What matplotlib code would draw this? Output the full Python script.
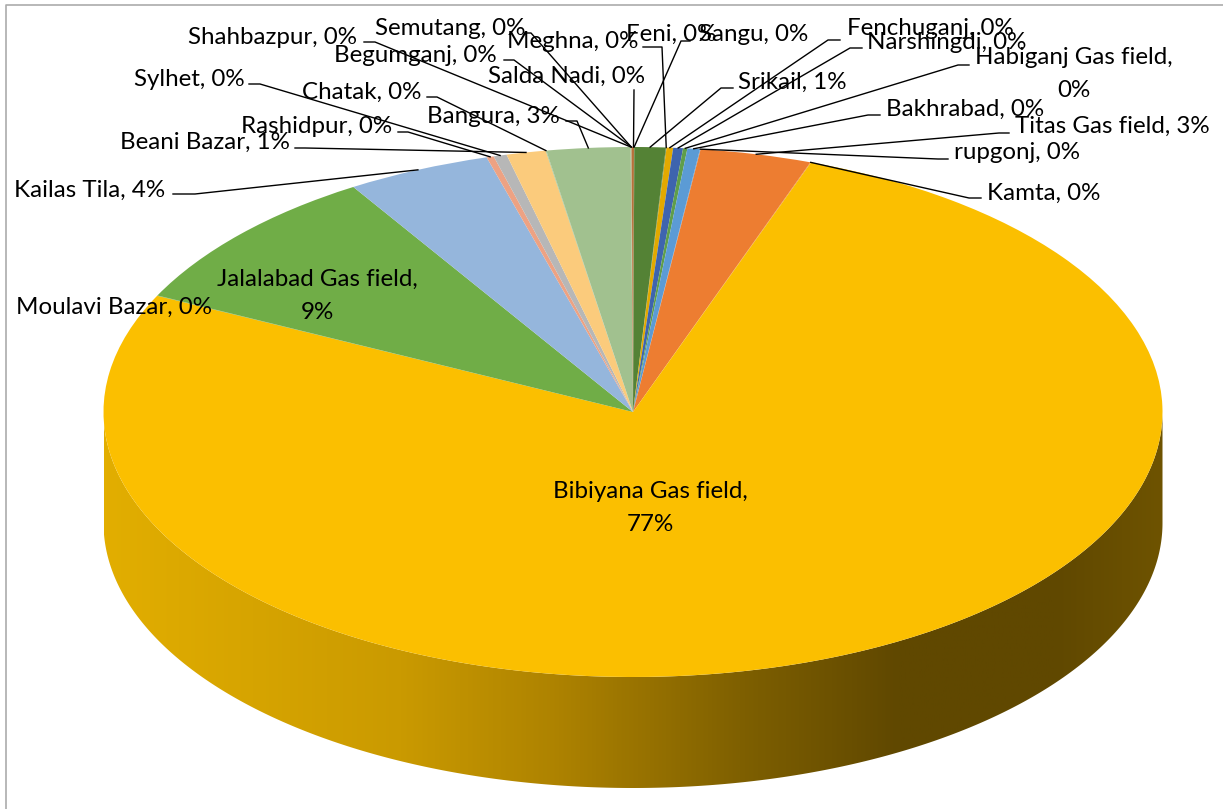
import numpy as np
import matplotlib
matplotlib.use('Agg')
import matplotlib.pyplot as plt
from matplotlib.colors import LinearSegmentedColormap

# clockwise from 12 o'clock
names = ['Salda Nadi', 'Sangu', 'Srikail', 'Feni', 'Fenchuganj', 'Narshingdi',
         'Habiganj Gas field', 'Bakhrabad', 'rupgonj', 'Titas Gas field', 'Kamta',
         'Bibiyana Gas field', 'Moulavi Bazar', 'Jalalabad Gas field', 'Kailas Tila',
         'Rashidpur', 'Sylhet', 'Beani Bazar', 'Chatak', 'Bangura', 'Shahbazpur',
         'Semutang', 'Begumganj', 'Meghna']
values = [0.03, 0.01, 0.95, 0.02, 0.20, 0.30,
          0.13, 0.38, 0.02, 3.40, 0.02,
          76.8, 0.02, 8.90, 4.40,
          0.22, 0.40, 1.20, 0.02, 2.55, 0.01,
          0.01, 0.01, 0.04]
# the hairline slices can't be told apart in the picture, they take a neighbour's colour
colors = ['#B8703A', '#548235', '#548235', '#548235', '#E2A900', '#3E64AE',
          '#5F9E4A', '#5B9BD5', '#5B9BD5', '#ED7D31', '#ED7D31',
          '#FBBF00', '#70AD47', '#70AD47', '#95B6DC',
          '#EDA283', '#B7B7B7', '#FBCB7C', '#A1C18F', '#A1C18F', '#A1C18F',
          '#A1C18F', '#B8703A', '#B8703A']

# where the labels sit, in picture pixels
label_x = [566, 754, 792, 671, 930, 947, 1074, 965, 1017, 1112, 1044,
           650, 114, 317, 90, 317, 189, 205, 362, 493, 273, 450, 415, 573]
label_y = [76, 34, 82, 34, 28, 42, 74, 109, 152, 126, 193,
           508, 307, 296, 190, 126, 79, 142, 92, 116, 37, 28, 55, 41]
wrapped = ['Habiganj Gas field', 'Bibiyana Gas field', 'Jalalabad Gas field']

# leader lines: horizontal stub (x0, x1, y), then on to the slice
stubs = {'Shahbazpur': (364, 375, 42), 'Semutang': (527, 531, 33), 'Begumganj': (504, 514, 60),
         'Salda Nadi': (634, 634, 90), 'Sylhet': (249, 260, 84), 'Chatak': (427, 437, 97),
         'Bangura': (566, 577, 121), 'Rashidpur': (398, 408, 132), 'Beani Bazar': (295, 305, 148),
         'Kailas Tila': (173, 195, 194), 'Srikail': (733, 721, 88), 'Fenchuganj': (840, 828, 40),
         'Narshingdi': (862, 850, 48), 'Habiganj Gas field': (969, 958, 65),
         'Bakhrabad': (880, 868, 115), 'Titas Gas field': (1009, 999, 133),
         'rupgonj': (948, 938, 159), 'Kamta': (981, 969, 198), 'Feni': (643, 662, 47),
         'Sangu': (690, 681, 41)}

W, H = 1223, 809
cx, cy = 633, 412
rx, ry = 529.5, 265
depth = 111

plt.rcParams['font.family'] = ['Lato', 'DejaVu Sans']
fig = plt.figure(figsize=(W / 100, H / 100), dpi=100)

# pie axes: one data unit is rx pixels across and ry pixels down, so the circle becomes the ellipse
ax = fig.add_axes([0, 0, 1, 1])
wedges, _ = ax.pie(values, colors=colors, startangle=90, counterclock=False,
                   wedgeprops={'linewidth': 0, 'zorder': 3})

# side wall
t = np.linspace(np.pi, 2 * np.pi, 400)
wx = np.cos(t)
wy = np.sin(t)
wall = ax.fill_between(wx, wy - depth / ry, wy, color='none', linewidth=0)
stops = [(0.0, '#E2AE00'), (0.28, '#CA9A00'), (0.43, '#AD8200'), (0.60, '#7F6000'),
         (0.75, '#604800'), (0.90, '#604800'), (1.0, '#6E5300')]
wall_cmap = LinearSegmentedColormap.from_list('wall', stops)
img = ax.imshow(np.linspace(0, 1, 512)[None, :], cmap=wall_cmap, aspect='auto',
                extent=(-1, 1, -1 - depth / ry, 0), zorder=2)
img.set_clip_path(wall.get_paths()[0], transform=ax.transData)
ax.set_aspect('auto')
ax.set_xlim(-cx / rx, (W - cx) / rx)
ax.set_ylim((cy - H) / ry, cy / ry)

# overlay in picture pixels for frame, leaders and labels
top = fig.add_axes([0, 0, 1, 1], facecolor='none')
top.set_xlim(0, W)
top.set_ylim(H, 0)
top.axis('off')
top.plot([6, 6, W], [H, 5, 5], color='#ABABAB', lw=1.2, clip_on=False)

for w, name, lx, ly in zip(wedges, names, label_x, label_y):
    a = np.deg2rad(90 - (w.theta1 + w.theta2) / 2)
    if name in stubs:
        x0, x1, y = stubs[name]
        top.plot([x0, x1, cx + rx * np.sin(a)], [y, y, cy - ry * np.cos(a)],
                 color='black', lw=1.0, zorder=4)
    pct = round(values[names.index(name)] / sum(values) * 100)
    sep = ',\n' if name in wrapped else ', '
    top.text(lx, ly, f'{name}{sep}{pct}%', ha='center', va='center', fontsize=17.4,
             linespacing=1.73, color='black', zorder=5)

fig.savefig('out.png', dpi=100)
